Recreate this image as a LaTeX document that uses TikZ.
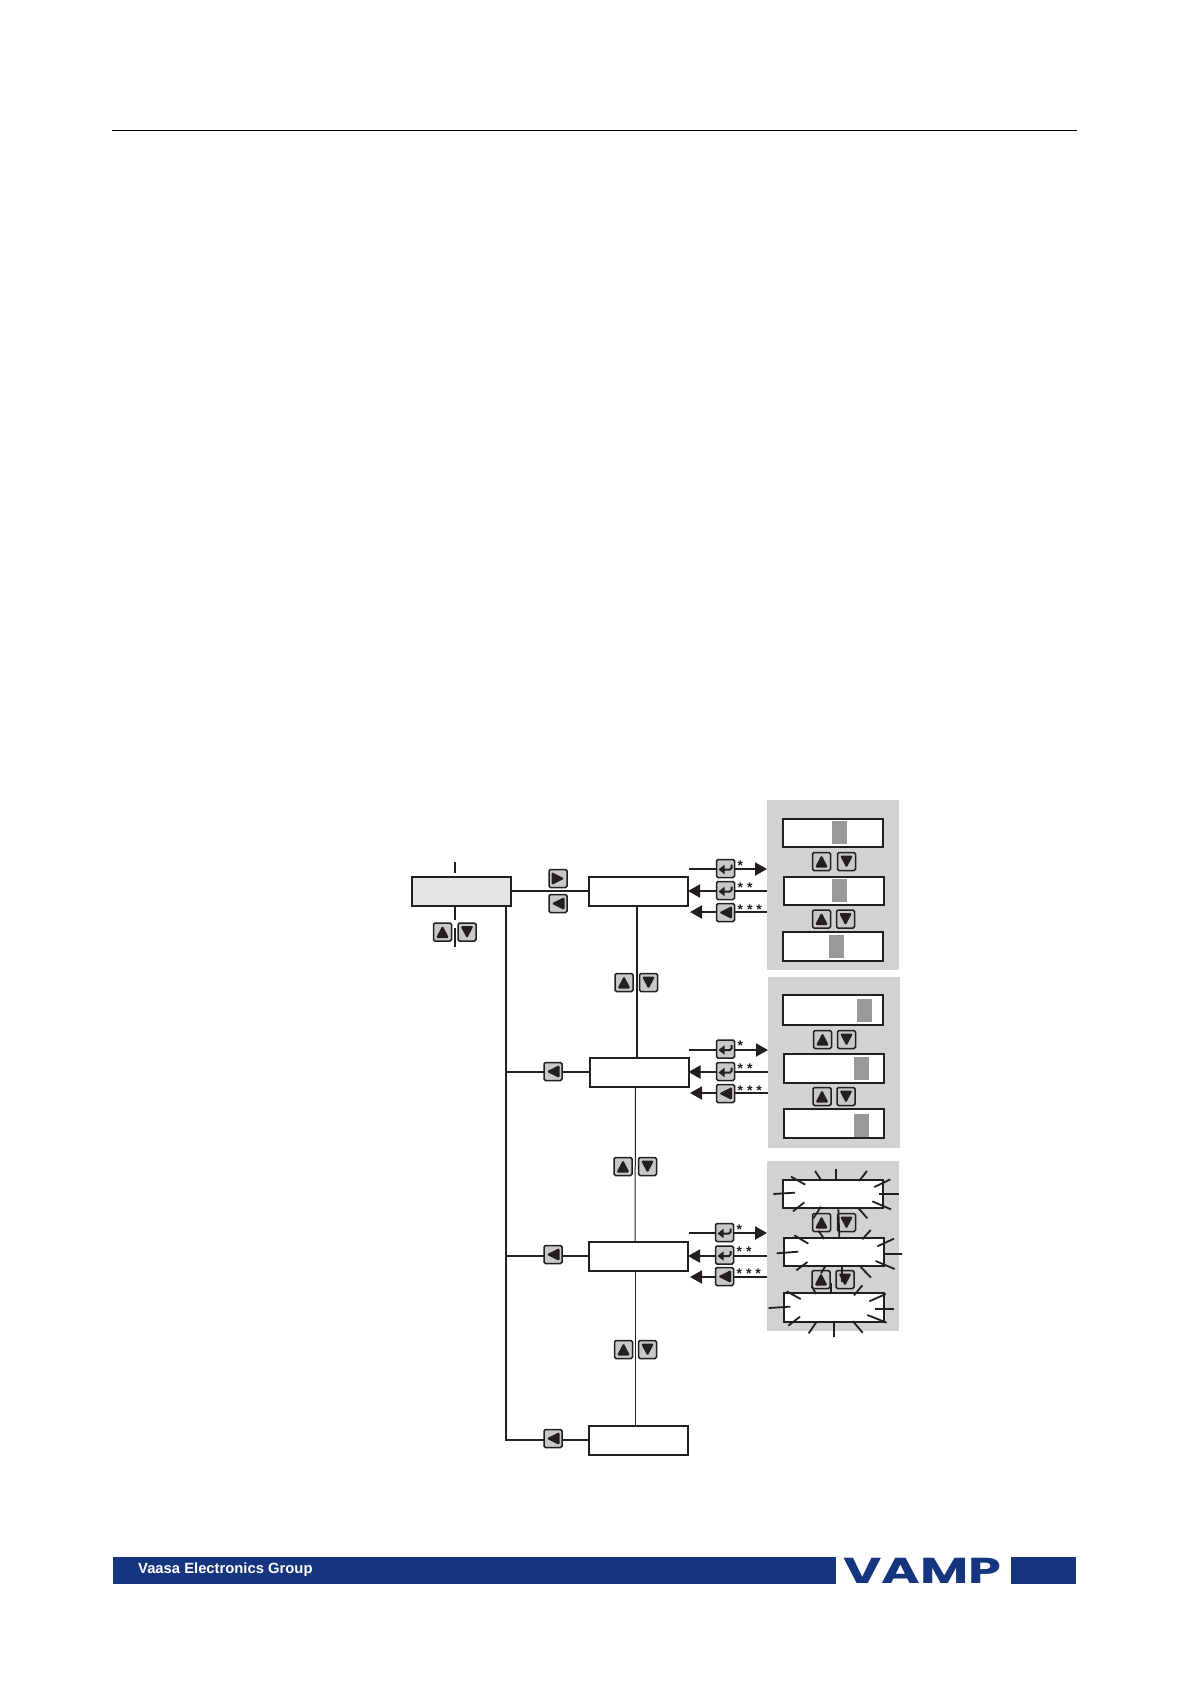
\documentclass[tikz,border=0pt]{standalone}
\usepackage{fontspec}
\setmainfont{Liberation Sans}
\newfontfamily\logofont{Poppins}
\usetikzlibrary{positioning,arrows.meta,calc}
\definecolor{ink}{HTML}{231F20}
\definecolor{vBlue}{HTML}{15367F}
\definecolor{pGray}{HTML}{D2D2D2}
\definecolor{bGray}{HTML}{C8C8C8}
\definecolor{cGray}{HTML}{999999}
\tikzset{
  menubox/.style={draw=ink, fill=white, line width=2pt, inner sep=0pt, outer sep=0pt, minimum width=99pt, minimum height=29pt},
  lcd/.style={draw=ink, fill=white, line width=2pt, inner sep=0pt, outer sep=0pt, minimum width=100pt, minimum height=28.5pt},
  panel/.style={fill=pGray, inner sep=0pt, outer sep=0pt, minimum width=132pt, minimum height=170pt},
  cursor/.style={fill=cGray, inner sep=0pt, outer sep=0pt, minimum width=15pt, minimum height=23pt},
  btn/.style={draw=ink, fill=bGray, line width=1.5pt, rounded corners=1.5pt, inner sep=0pt, outer sep=0pt, minimum size=18pt},
  btnup/.style={btn, path picture={\fill[ink] ($(path picture bounding box.center)+(0,-6.5)$) -- ++(-6.5,12.5) -- ++(13,0) -- cycle;}},
  btndn/.style={btn, path picture={\fill[ink] ($(path picture bounding box.center)+(0,6.5)$) -- ++(-6.5,-12.5) -- ++(13,0) -- cycle;}},
  btnlt/.style={btn, path picture={\fill[ink] ($(path picture bounding box.center)+(-6.5,0)$) -- ++(13,6.5) -- ++(0,-13) -- cycle;}},
  btnrt/.style={btn, path picture={\fill[ink] ($(path picture bounding box.center)+(6.5,0)$) -- ++(-13,6.5) -- ++(0,-13) -- cycle;}},
  btnen/.style={btn, path picture={\draw[ink, line width=2pt, -{Triangle[length=6pt,width=9pt]}] ($(path picture bounding box.center)+(6,-4)$) -- ++(0,5) -- ++(-13,0);}},
  stars/.style={font=\bfseries\fontsize{14}{14}\selectfont, text=ink, anchor=west, inner sep=0pt},
  link/.style={ink, line width=2pt},
  thin link/.style={ink, line width=1pt},
  tip/.style={-{Triangle[length=12pt,width=13pt]}},
  ray/.style={ink, line width=1.8pt},
}
\begin{document}
\begin{tikzpicture}[x=1pt, y=-1pt]
\useasboundingbox (0,0) rectangle (1190,1684);
% header and footer
\draw[black, line width=0.9pt] (112,130.3) -- (1077,130.3);
\fill[vBlue] (113,1557) rectangle (836,1584);
\fill[vBlue] (1011,1557) rectangle (1076,1584);
\node[anchor=west, text=white, font=\bfseries\fontsize{14.8}{15}\selectfont, inner sep=0pt] (group) at (138,1570) {Vaasa Electronics Group};
\node[anchor=center, text=vBlue, font=\logofont\bfseries\fontsize{36}{36}\selectfont, inner sep=0pt] (logo) at (922.5,1571) {\scalebox{1.46}[1]{VAMP}};
% grey panels
\node[panel] (p1) at (833,885) {};
\node[panel, minimum height=171pt] (p2) at (834,1062.5) {};
\node[panel] (p3) at (833,1246) {};
% menu boxes
\node[menubox, fill=black!10] (root) at (461.5,891) {};
\node[menubox] (b1) at (638.5,891) {};
\node[menubox] (b2) at (639,1072) {};
\node[menubox] (b3) at (638.5,1256) {};
\node[menubox] (b4) at (638.5,1440) {};
\coordinate (dashtop) at (455,862);
\coordinate (dashend) at (455,947);
\coordinate (busend) at (506,1440);
% connectors in the menu column
\draw[link, dash pattern=on 11pt off 4pt] (dashtop) -- (root.north -| dashtop);
\draw[link, dash pattern=on 14pt off 8pt on 19pt off 8pt] (root.south -| dashtop) -- (dashend);
\draw[link] (root.east) -- (b1.west);
\draw[link] ([xshift=44.5]root.south) -- (busend) -- (b4.west);
\draw[link] (b2.west) -- (b2.west -| busend);
\draw[link] (b3.west) -- (b3.west -| busend);
\draw[link] ([xshift=-1.5]b1.south) -- ([xshift=-2]b2.north);
\draw[thin link] ([xshift=-3.5]b2.south) -- ([xshift=-3.5]b3.north);
\draw[thin link] ([xshift=-3.5]b3.south) -- ([xshift=-3.5]b4.north);
% connectors towards the panels
\foreach \n/\ya/\yb/\yc in {1/869/891/912, 2/1050/1072/1093, 3/1233/1255/1277} {
  \coordinate (out\n) at (689,\ya);
  \coordinate (ret\n) at (690,\yc);
  \draw[link, tip] (out\n) -- (p\n.west |- out\n);
  \draw[link, tip] (p\n.west |- {b\n.east}) -- (b\n.east);
  \draw[link, tip] (p\n.west |- ret\n) -- (ret\n);
}
% buttons
\node[btnrt] (goin) at (558,878.5) {};
\node[btnlt] (goback) at (558,903.5) {};
\node[btnup] (rootup) at (442.5,932) {};
\node[btndn] (rootdn) at (467,932) {};
\foreach \n/\xa/\xb/\y in {1/624/648.5/982.5, 2/623/647.5/1166.5, 3/623.5/647.5/1349.5} {
  \node[btnup] (cup\n) at (\xa,\y) {};
  \node[btndn] (cdn\n) at (\xb,\y) {};
}
\foreach \n/\y in {2/1071.5, 3/1254.5, 4/1438.5} \node[btnlt] (back\n) at (553,\y) {};
\foreach \n/\x/\ya/\yb/\yc in {1/725.5/868.5/890.5/912.5, 2/725.5/1049/1071.5/1093.5, 3/724.5/1232.5/1255/1276.5} {
  \node[btnen] (ok\n) at (\x,\ya) {};
  \node[btnen] (oks\n) at (\x,\yb) {};
  \node[btnlt] (esc\n) at (\x,\yc) {};
  \node[stars] (st\n) at ($(\x,\ya)+(12,-3)$) {*};
  \node[stars] (sts\n) at ($(\x,\yb)+(12,-3)$) {* *};
  \node[stars] (stt\n) at ($(\x,\yc)+(12,-3)$) {* * *};
}
% displays
\node[lcd] (a1) at (833,833) {};
\node[lcd] (a2) at (834,891) {};
\node[lcd, minimum height=29pt] (a3) at (833,946.5) {};
\node[cursor] (ca1) at (839.5,832.5) {};
\node[cursor] (ca2) at (839.5,890.5) {};
\node[cursor] (ca3) at (836.5,946) {};
\node[lcd, minimum height=30pt] (d1) at (833,1010) {};
\node[lcd, minimum height=29pt] (d2) at (834,1068.5) {};
\node[lcd, minimum height=29pt] (d3) at (834,1123.5) {};
\node[cursor] (cd1) at (864.5,1010) {};
\node[cursor] (cd2) at (861.5,1068) {};
\node[cursor] (cd3) at (861.5,1125) {};
\node[lcd] (e1) at (833,1194) {};
\node[lcd] (e2) at (834,1252) {};
\node[lcd, minimum height=29pt] (e3) at (834,1307.5) {};
\foreach \n/\xa/\xb/\y in {1/821.5/846.5/861.5, 2/821.5/845.5/919, 3/822.5/846.5/1039.5, 4/822/846/1096.5, 5/821.5/846.5/1222.5, 6/821/845/1279.5} {
  \node[btnup] (sup\n) at (\xa,\y) {};
  \node[btndn] (sdn\n) at (\xb,\y) {};
}
% flashing rays of the last panel
\begin{scope}[shift={(680,1150)}, x=1/3*1pt, y=-1/3*1pt]
\foreach \xa/\ya/\xb/\yb in {
  333/80/376/104, 405/63/422/88, 467/56/467/88, 561/63/537/93, 631/88/583/111, 657/133/598/133,
  633/178/577/154, 562/205/533/172, 423/170/400/205, 373/157/339/184, 345/128/280/132,
  343/256/385/281, 415/242/433/267, 475/178/478/262, 572/240/547/268, 642/266/592/289, 667/312/608/312,
  644/357/587/333, 573/383/541/350, 435/350/423/370, 382/336/349/361, 355/305/290/310, 485/352/485/395,
  320/424/362/447, 395/408/408/432, 453/400/453/428, 547/406/522/436, 617/432/568/454, 642/477/584/477,
  620/518/562/495, 548/548/518/513, 410/515/386/550, 360/500/325/527, 331/470/266/474, 461/516/461/560}
  \draw[ray] (\xa,\ya) -- (\xb,\yb);
\end{scope}
\end{tikzpicture}
\end{document}
